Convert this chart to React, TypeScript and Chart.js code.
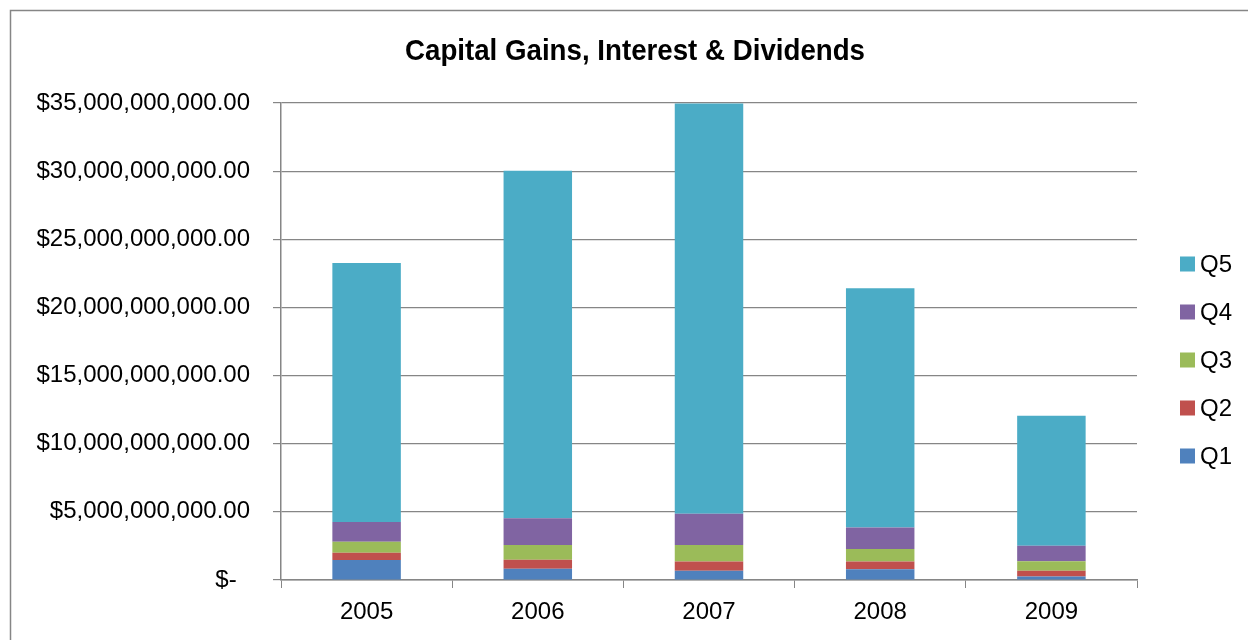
import React, { useEffect, useRef } from "react";
import { Chart, registerables } from "chart.js";

Chart.register(...registerables);

const TITLE = "Capital Gains, Interest & Dividends";
const years = ["2005", "2006", "2007", "2008", "2009"];
const seriesNames = ["Q1", "Q2", "Q3", "Q4", "Q5"];
const seriesColors = ["#4F81BD", "#C0504D", "#9BBB59", "#8064A2", "#4BACC6"];
// values in dollars
const q1 = [1.47e9, 0.83e9, 0.68e9, 0.79e9, 0.25e9];
const q2 = [0.53e9, 0.66e9, 0.67e9, 0.56e9, 0.43e9];
const q3 = [0.8e9, 1.08e9, 1.22e9, 0.93e9, 0.69e9];
const q4 = [1.46e9, 1.96e9, 2.3e9, 1.57e9, 1.15e9];
const q5 = [19.0e9, 25.5e9, 30.1e9, 17.55e9, 9.53e9];
const seriesValues = [q1, q2, q3, q4, q5];
const yMax = 35e9;
const yStep = 5e9;

const fmt = (v: number) => {
  if (v === 0) return "$-  ";
  return "$" + v.toLocaleString("en-US", { minimumFractionDigits: 2, maximumFractionDigits: 2 });
};

const TICK_FONT = { family: "'Liberation Sans', Arial, sans-serif", size: 24 };

const framePlugin = {
  id: "frame",
  beforeDraw(chart: any) {
    const ctx = chart.ctx;
    ctx.save();
    ctx.fillStyle = "#ffffff";
    ctx.fillRect(0, 0, chart.width, chart.height);
    ctx.strokeStyle = "#868686";
    ctx.lineWidth = 1.5;
    ctx.strokeRect(10.5, 10.5, 1400, 800);
    ctx.restore();
  },
  afterDraw(chart: any) {
    const ctx = chart.ctx;
    ctx.save();
    // title, condensed to the reference width
    ctx.fillStyle = "#000000";
    ctx.font = "bold 30px 'Liberation Sans', Arial, sans-serif";
    ctx.textAlign = "center";
    ctx.textBaseline = "middle";
    const w = ctx.measureText(TITLE).width;
    const sx = Math.min(1, 460 / w);
    ctx.save();
    ctx.translate(635, 52);
    ctx.scale(sx, 1);
    ctx.fillText(TITLE, 0, 0);
    ctx.restore();
    // legend (reversed)
    ctx.font = "24px 'Liberation Sans', Arial, sans-serif";
    ctx.textAlign = "left";
    const ds = chart.data.datasets;
    const n = ds.length;
    for (let i = 0; i < n; i++) {
      const d = ds[n - 1 - i];
      const cy = 264 + i * 48;
      ctx.fillStyle = d.backgroundColor;
      ctx.fillRect(1180, cy - 7.5, 15, 15);
      ctx.fillStyle = "#000000";
      ctx.fillText(d.label, 1200, cy + 1);
    }
    ctx.restore();
  },
};

export default function App() {
  const ref = useRef<HTMLCanvasElement | null>(null);
  useEffect(() => {
    document.body.style.margin = "0";
    const canvas = ref.current!;
    const chart = new Chart(canvas, {
      type: "bar",
      data: {
        labels: years,
        datasets: seriesNames.map((name, i) => ({
          label: name,
          data: seriesValues[i],
          backgroundColor: seriesColors[i],
          borderWidth: 0,
          barPercentage: 0.4,
          categoryPercentage: 1,
        })),
      },
      options: {
        responsive: false,
        animation: false,
        devicePixelRatio: 1,
        layout: { padding: { left: 0, right: 111, top: 103, bottom: 0 } },
        plugins: {
          legend: { display: false },
          title: { display: false },
          tooltip: { enabled: false },
        },
        scales: {
          x: {
            stacked: true,
            afterFit: (s: any) => {
              s.height = 60;
            },
            grid: {
              display: true,
              drawOnChartArea: false,
              drawTicks: true,
              offset: true,
              tickLength: 8,
              color: "#868686",
              lineWidth: 1,
            },
            border: { display: true, color: "#868686", width: 1.5 },
            ticks: { color: "#000000", font: TICK_FONT, padding: 10 },
          },
          y: {
            stacked: true,
            min: 0,
            max: yMax,
            afterFit: (s: any) => {
              s.width = 281;
            },
            grid: {
              display: true,
              drawTicks: true,
              tickLength: 8,
              color: "#868686",
              lineWidth: 1.2,
            },
            border: { display: true, color: "#868686", width: 1.5 },
            ticks: {
              stepSize: yStep,
              color: "#000000",
              font: TICK_FONT,
              padding: 23,
              callback: (v: any) => fmt(Number(v)),
            },
          },
        },
      },
      plugins: [framePlugin],
    });
    return () => chart.destroy();
  }, []);
  return (
    <div style={{ position: "absolute", left: 0, top: 0, width: 1248, height: 640 }}>
      <canvas ref={ref} width={1248} height={640} style={{ width: 1248, height: 640, display: "block" }} />
    </div>
  );
}
